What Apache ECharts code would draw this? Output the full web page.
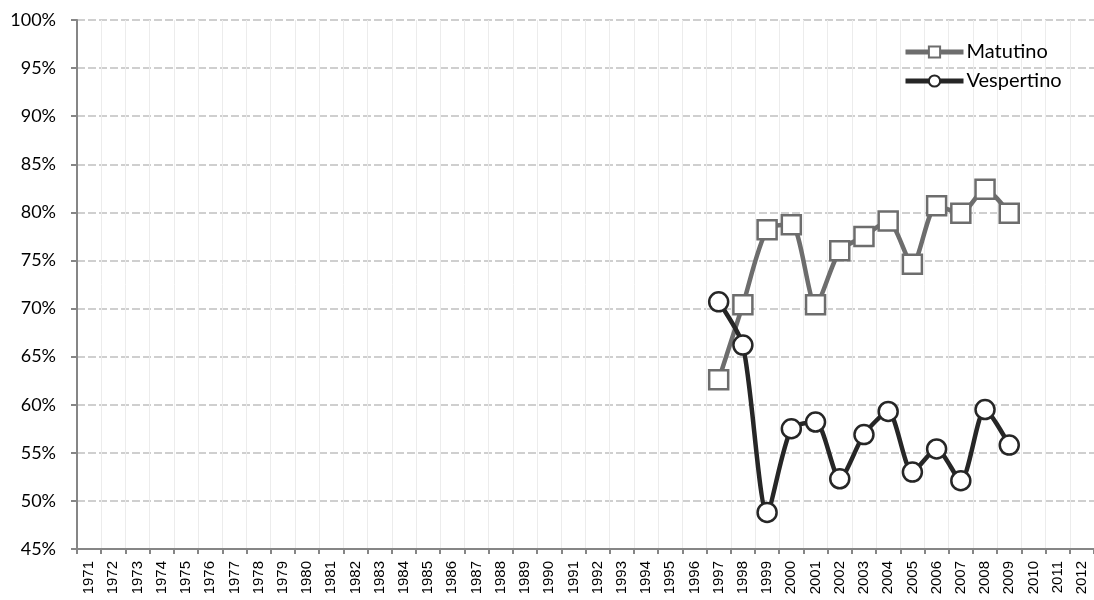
<!DOCTYPE html>
<html>
<head>
<meta charset="utf-8">
<script src="https://cdn.jsdelivr.net/npm/echarts@6/dist/echarts.min.js"></script>
<style>html,body{margin:0;padding:0;background:#fff;}#c{width:1094px;height:600px;}</style>
</head>
<body>
<div id="c"></div>
<script>
var years = [];
for (var y = 1971; y <= 2012; y++) years.push(String(y));
var matutinoYears = ['1997','1998','1999','2000','2001','2002','2003','2004','2005','2006','2007','2008','2009'];
var matutinoValues = [62.6, 70.4, 78.2, 78.7, 70.4, 76.0, 77.5, 79.1, 74.6, 80.7, 79.9, 82.4, 79.9];
var vespertinoYears = ['1997','1998','1999','2000','2001','2002','2003','2004','2005','2006','2007','2008','2009'];
var vespertinoValues = [70.7, 66.2, 48.8, 57.5, 58.2, 52.3, 56.9, 59.3, 53.0, 55.4, 52.1, 59.5, 55.8];
var yTicks = [45, 50, 55, 60, 65, 70, 75, 80, 85, 90, 95, 100];

function toSeries(ys, vals) {
  return years.map(function (yr) {
    var i = ys.indexOf(yr);
    return i >= 0 ? vals[i] : null;
  });
}

var chart = echarts.init(document.getElementById('c'), null, {renderer: 'canvas'});
chart.setOption({
  animation: false,
  backgroundColor: '#ffffff',
  grid: {left: 77, right: 0, top: 20, bottom: 51, containLabel: false},
  legend: {
    left: 903, top: 42, orient: 'vertical', padding: 0,
    itemWidth: 58, itemHeight: 14, itemGap: 9,
    lineStyle: {width: 5},
    textStyle: {fontFamily: 'Lato', fontSize: 20, lineHeight: 20, color: '#000', padding: [0, 0, 0, -2]},
    data: ['Matutino', 'Vespertino']
  },
  xAxis: {
    type: 'category', data: years, boundaryGap: true,
    axisLine: {lineStyle: {color: '#868686', width: 2}},
    axisTick: {show: true, alignWithLabel: false, length: 5, lineStyle: {color: '#868686', width: 2}, interval: 0},
    axisLabel: {interval: 0, rotate: 90, margin: 12, fontFamily: 'Liberation Sans', fontSize: 15, color: '#000'},
    splitLine: {show: true, interval: 0, lineStyle: {color: '#ececec', width: 1}}
  },
  yAxis: {
    type: 'value', min: 45, max: 100, interval: 5,
    axisLine: {show: true, lineStyle: {color: '#868686', width: 2}},
    axisTick: {show: true, length: 6, lineStyle: {color: '#868686', width: 2}},
    axisLabel: {margin: 21, fontFamily: 'Lato', fontSize: 18, color: '#000',
      formatter: function (v) { return yTicks.indexOf(v) >= 0 ? v + '%' : ''; }},
    splitLine: {show: true, lineStyle: {color: '#c0c0c0', width: 1.5, type: [8, 3]}}
  },
  series: [
    {
      name: 'Matutino', type: 'line', data: toSeries(matutinoYears, matutinoValues),
      smooth: 0.25, connectNulls: false,
      symbol: 'rect', symbolSize: 19,
      lineStyle: {color: '#6d6d6d', width: 4.5},
      itemStyle: {color: '#ffffff', borderColor: '#6d6d6d', borderWidth: 2.5},
      z: 2
    },
    {
      name: 'Vespertino', type: 'line', data: toSeries(vespertinoYears, vespertinoValues),
      smooth: 0.25, connectNulls: false,
      symbol: 'circle', symbolSize: 19,
      lineStyle: {color: '#262626', width: 4.5},
      itemStyle: {color: '#ffffff', borderColor: '#262626', borderWidth: 2.5},
      z: 3
    }
  ]
});
</script>
</body>
</html>
